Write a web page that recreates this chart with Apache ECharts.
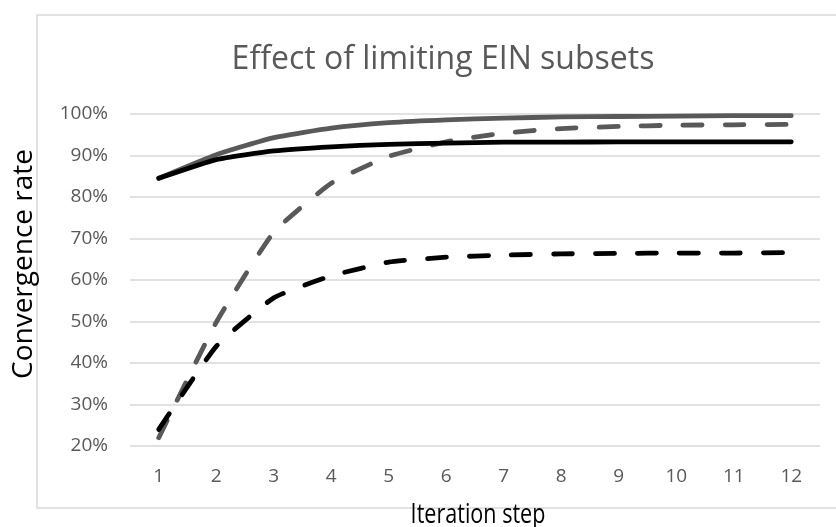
<!DOCTYPE html>
<html>
<head>
<meta charset="utf-8">
<script src="https://cdn.jsdelivr.net/npm/echarts@6/dist/echarts.min.js"></script>
<style>html,body{margin:0;padding:0;background:#fff}#c{width:836px;height:527px}</style>
</head>
<body>
<div id="c"></div>
<script>
const categories = ['1','2','3','4','5','6','7','8','9','10','11','12'];
const graySolid  = [84.5, 90.2, 94.3, 96.6, 97.9, 98.6, 99.0, 99.3, 99.4, 99.5, 99.6, 99.6];
const blackSolid = [84.5, 89.0, 91.1, 92.1, 92.7, 93.0, 93.2, 93.2, 93.3, 93.3, 93.3, 93.3];
const grayDashed = [22.0, 49.8, 71.5, 83.3, 89.8, 93.3, 95.4, 96.5, 97.0, 97.3, 97.4, 97.5];
const blackDashed = [24.0, 44.0, 55.7, 61.0, 64.3, 65.5, 66.0, 66.3, 66.4, 66.5, 66.5, 66.6];
const yTicks = [20, 30, 40, 50, 60, 70, 80, 90, 100];
const titleText = 'Effect of limiting EIN subsets';
const xName = 'Iteration step';
const yName = 'Convergence rate';

const chart = echarts.init(document.getElementById('c'), null, {renderer: 'canvas'});
const FONT = 'Open Sans';
function lineSeries(data, color, dashed) {
  return {
    type: 'line', data: data, symbol: 'none', smooth: 0.15,
    lineStyle: {color: color, width: 4.8, type: dashed ? [19, 23] : 'solid', cap: 'round', join: 'round'},
    itemStyle: {color: color}
  };
}
chart.setOption({
  animation: false,
  backgroundColor: '#ffffff',
  grid: {left: 130, right: 16, top: 114, bottom: 81},
  xAxis: {
    type: 'category', data: categories, boundaryGap: true,
    axisLine: {show: false}, axisTick: {show: false},
    axisLabel: {fontFamily: FONT, fontSize: 19, color: '#595959', margin: 21}
  },
  yAxis: {
    type: 'value', min: yTicks[0], max: yTicks[yTicks.length - 1], interval: 10,
    axisLine: {show: false}, axisTick: {show: false},
    axisLabel: {fontFamily: FONT, fontSize: 19, color: '#595959', margin: 22, formatter: v => v + '%'},
    splitLine: {lineStyle: {color: '#d9d9d9', width: 1.5}}
  },
  graphic: [
    {type: 'rect', shape: {x: 37, y: 15, width: 820, height: 493}, style: {fill: 'none', stroke: '#d9d9d9', lineWidth: 1.5}, z: -1},
    {type: 'text', x: 443, y: 60, style: {text: titleText, fontFamily: FONT, fontSize: 32, fill: '#595959', align: 'center', verticalAlign: 'middle'}},
    {type: 'text', x: 478, y: 515, scaleX: 0.77, style: {text: xName, fontFamily: FONT, fontSize: 28, fill: '#000000', align: 'center', verticalAlign: 'middle'}},
    {type: 'text', x: 24, y: 264, rotation: Math.PI / 2, style: {text: yName, fontFamily: FONT, fontSize: 28, fill: '#000000', align: 'center', verticalAlign: 'middle'}}
  ],
  series: [
    lineSeries(grayDashed, '#595959', true),
    lineSeries(blackDashed, '#000000', true),
    lineSeries(graySolid, '#595959', false),
    lineSeries(blackSolid, '#000000', false)
  ]
});
</script>
</body>
</html>
